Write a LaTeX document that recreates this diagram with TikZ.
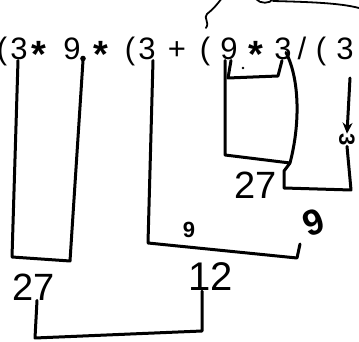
\documentclass[tikz,border=0pt]{standalone}
\usepackage{fontspec}
\setmainfont{Liberation Sans}
\usetikzlibrary{arrows.meta}
\tikzset{
  ch/.style={anchor=base, inner sep=0pt, font=\fontsize{31}{31}\selectfont},
  ast/.style={anchor=base, inner sep=0pt, font=\fontsize{38}{38}\selectfont\bfseries},
  hand/.style={inner sep=0pt, font=\fontsize{38}{38}\selectfont},
  ink/.style={line width=3pt, line join=round, line cap=round},
}
\begin{document}
\begin{tikzpicture}[x=1pt,y=-1pt]
\useasboundingbox (0,0) rectangle (359,342);
% printed expression
\node[ch] (c1) at (2,60) {(};
\node[ch] (c2) at (19,60) {3};
\node[ast] (c3) at (39,68) {*};
\node[ch] (c4) at (72,60) {9};
\node[ast] (c5) at (101,68) {*};
\node[ch] (c6) at (130,60) {(};
\node[ch] (c7) at (147,60) {3};
\node[ch] (c8) at (177,60) {+};
\node[ch] (c9) at (205,60) {(};
\node[ch] (c10) at (229,60) {9};
\node[ast] (c11) at (256,68) {*};
\node[ch] (c12) at (283,60) {3};
\node[ch] (c13) at (302,60) {/};
\node[ch] (c14) at (321,60) {(};
\node[ch] (c15) at (345,60) {3};
% handwritten labels
\node[hand] (L1) at (34,287) {27};
\node[hand, font=\fontsize{40}{40}\selectfont] (L2) at (211,277) {12};
\node[hand] (L3b) at (256,185) {27};
\node[hand, rotate=-90, font=\fontsize{22}{22}\selectfont\bfseries] (L3) at (347,140) {3};
\node[hand, rotate=20, font=\fontsize{36}{36}\selectfont\bfseries] (L9) at (314,222) {9};
\node[inner sep=0pt, font=\fontsize{22}{22}\selectfont\bfseries] (sm) at (189,230) {9};
% coordinates
\coordinate (a1) at (12,257);
\coordinate (a2) at (70,261);
\coordinate (b1) at (35,338);
\coordinate (b2) at (202,331);
\coordinate (m1) at (148,243);
\coordinate (m2) at (297,258);
\coordinate (m3) at (300,244);
\coordinate (o1) at (225,155);
\coordinate (o2) at (290,163);
\coordinate (i1) at (228,78);
\coordinate (i2) at (278,76);
\coordinate (r1) at (284,171);
\coordinate (r2) at (284,188);
\coordinate (r3) at (351,190);
\coordinate (ar) at (350,78);
\coordinate (t0) at (206,28);
% left bracket
\draw[ink] ([xshift=-1pt]c2.south) -- (a1) -- (a2) -- ([xshift=11pt]c4.south);
\fill ([xshift=11pt,yshift=2pt]c4.south) circle (2.8pt);
% bottom connector 27 -- 12
\draw[ink] ([xshift=3pt]L1.south) -- (b1) -- (b2) -- ([xshift=-9pt]L2.south);
% middle bracket
\draw[ink] ([xshift=6pt]c7.south) -- (m1) -- (m2) -- (m3);
% outer box under 9*3
\draw[ink] ([xshift=-4pt]c10.south) -- (o1) -- (o2) .. controls (300,125) and (300,80) .. ([xshift=3pt,yshift=8pt]c12.south);
% inner bracket
\draw[ink] ([xshift=2pt]c10.south) -- (i1) -- (i2) -- ([xshift=-1pt]c12.south);
\fill (243,68) circle (1.3pt);
% connector to rotated 3
\draw[ink] (o2) -- (r1) -- (r2) -- (r3) -- (L3.east);
\draw[ink, -{Stealth[length=11pt,width=10pt]}] (ar) -- (L3.west);
% top curly line
\draw[ink, line width=1.8pt] (t0) .. controls (210,22) and (203,18) .. (207,14) .. controls (212,10) and (216,6) .. (222,-2);
\draw[ink, line width=1.8pt] (256,-1) .. controls (260,4) and (270,4) .. (273,-1);
\draw[ink, line width=1.8pt] (273,1) .. controls (310,2) and (340,3) .. (359,8);
\end{tikzpicture}
\end{document}
